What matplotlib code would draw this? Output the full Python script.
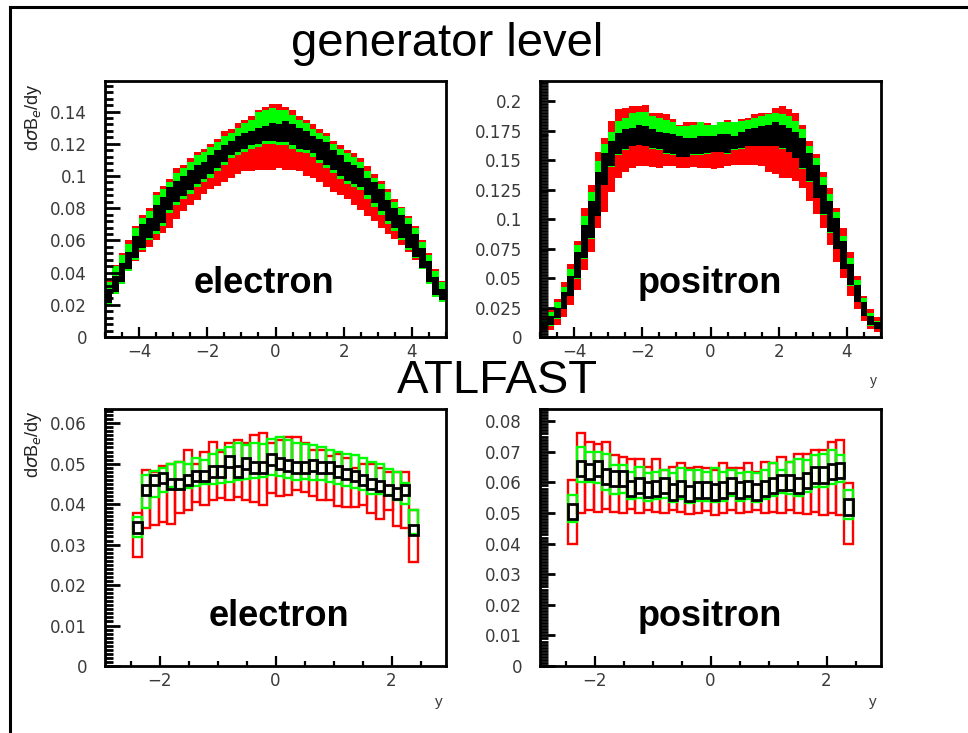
import numpy as np
import matplotlib
matplotlib.use("Agg")
import matplotlib.pyplot as plt
from matplotlib.ticker import MultipleLocator, FormatStrFormatter
from matplotlib.lines import Line2D

# ---- binning (rapidity y) ----
gen_edges = np.linspace(-5, 5, 51)
atl_edges = np.linspace(-2.45, 2.45, 35)

# ---- generator level, electron ----
e_gen_red_hi = [.035, .045, .052, .060, .069, .076, .080, .090, .094, .098, .105, .107, .111, .115, .117, .120, .123, .128, .129, .133, .135, .137, .141, .143, .145,
                .145, .143, .141, .137, .135, .132, .129, .127, .122, .119, .116, .114, .111, .106, .101, .097, .092, .086, .081, .075, .069, .060, .052, .042, .035]
e_gen_red_lo = [.020, .027, .033, .041, .047, .053, .056, .060, .0646, .068, .073, .078, .082, .085, .089, .092, .094, .096, .099, .101, .103, .103, .104, .104, .104,
                .105, .104, .104, .103, .100, .099, .096, .093, .090, .088, .0855, .082, .079, .075, .072, .068, .064, .061, .057, .053, .048, .042, .033, .025, .022]
e_gen_grn_hi = [.034, .044, .051, .058, .068, .074, .078, .088, .092, .096, .102, .105, .109, .113, .115, .118, .121, .125, .127, .130, .133, .135, .140, .141, .142,
                .141, .141, .138, .135, .133, .129, .127, .125, .120, .117, .114, .112, .109, .103, .099, .095, .090, .084, .080, .074, .068, .059, .051, .041, .034]
e_gen_grn_lo = [.020, .027, .033, .041, .048, .054, .060, .064, .069, .077, .082, .086, .089, .093, .096, .099, .103, .107, .111, .113, .115, .117, .118, .120, .120,
                .119, .119, .117, .115, .114, .112, .108, .105, .102, .098, .095, .093, .091, .086, .081, .076, .070, .066, .060, .054, .049, .042, .033, .025, .022]
e_gen_blk_hi = [.030, .038, .046, .053, .063, .070, .074, .082, .087, .093, .097, .100, .104, .107, .109, .113, .116, .119, .122, .125, .127, .128, .130, .131, .133,
                .132, .134, .132, .130, .128, .125, .123, .121, .116, .113, .109, .107, .105, .099, .096, .092, .085, .080, .076, .070, .064, .055, .047, .037, .030]
e_gen_blk_lo = [.021, .028, .034, .042, .049, .055, .0615, .0656, .071, .079, .084, .0875, .091, .095, .098, .101, .105, .109, .113, .115, .117, .119, .120, .122, .122,
                .121, .121, .119, .117, .116, .114, .110, .107, .104, .100, .097, .095, .093, .088, .083, .078, .072, .068, .0615, .055, .050, .043, .034, .026, .023]

# ---- generator level, positron ----
p_gen_red_hi = [.018, .024, .032, .047, .062, .081, .109, .129, .157, .169, .183, .193, .194, .196, .196, .197, .190, .190, .189, .185, .180, .182, .182, .182, .181,
                .180, .182, .184, .182, .185, .186, .189, .190, .190, .194, .196, .193, .190, .180, .166, .155, .140, .126, .109, .092, .072, .052, .035, .024, .017]
p_gen_red_lo = [.005, .006, .010, .017, .027, .040, .057, .072, .092, .106, .123, .135, .140, .143, .145, .145, .144, .143, .145, .145, .143, .143, .144, .143, .143,
                .142, .143, .145, .146, .146, .146, .146, .145, .140, .138, .135, .135, .132, .126, .115, .104, .092, .078, .064, .050, .035, .024, .014, .007, .004]
p_gen_grn_hi = [.0155, .021, .030, .042, .058, .078, .103, .123, .149, .164, .174, .183, .186, .190, .191, .191, .187, .186, .184, .182, .179, .179, .180, .182, .180,
                .180, .182, .182, .182, .183, .184, .186, .187, .189, .190, .189, .187, .183, .176, .162, .152, .136, .121, .106, .086, .067, .048, .033, .020, .014]
p_gen_grn_lo = [.0065, .0095, .0155, .0235, .0345, .0495, .0665, .0835, .1025, .1285, .1445, .1545, .1585, .1615, .1625, .1615, .1595, .1585, .1555, .1545, .1525, .1525, .1545, .1545, .1555,
                .1565, .1565, .1555, .1585, .1595, .1615, .1615, .1615, .1615, .1615, .1595, .1565, .1515, .1425, .1315, .1175, .1035, .0885, .0745, .0575, .0435, .0295, .0175, .0095, .0065]
p_gen_blk_hi = [.0126, .018, .025, .038, .052, .072, .095, .115, .140, .156, .166, .173, .176, .177, .180, .179, .176, .174, .173, .172, .170, .169, .169, .170, .170,
                .170, .172, .172, .170, .174, .176, .177, .179, .180, .182, .180, .177, .174, .169, .156, .146, .129, .115, .101, .081, .062, .044, .030, .018, .0126]
p_gen_blk_lo = [.007, .010, .016, .024, .035, .050, .067, .084, .103, .129, .145, .155, .159, .162, .163, .162, .160, .159, .156, .155, .153, .153, .155, .155, .156,
                .157, .157, .156, .159, .160, .162, .162, .162, .162, .162, .160, .157, .152, .143, .132, .118, .104, .089, .075, .058, .044, .030, .018, .010, .007]

# ---- ATLFAST, electron ----
e_atl_red_hi = [.0377, .0484, .0480, .0495, .0500, .0505, .0534, .0500, .0530, .0554, .0530, .0550, .0558, .0550, .0571, .0575, .0550,
                .0558, .0566, .0566, .0550, .0533, .0533, .0520, .0524, .0515, .0490, .0500, .0500, .0490, .0480, .0479, .0479, .0385]
e_atl_red_lo = [.0270, .0340, .0348, .0356, .0352, .0377, .0385, .0405, .0398, .0410, .0414, .0410, .0418, .0410, .0405, .0398, .0427,
                .0420, .0422, .0434, .0430, .0420, .0410, .0410, .0395, .0393, .0393, .0398, .0377, .0364, .0385, .0345, .0340, .0257]
e_atl_grn_hi = [.0368, .0472, .0481, .0490, .0500, .0505, .0500, .0515, .0510, .0525, .0533, .0540, .0550, .0545, .0552, .0548, .0562,
                .0565, .0558, .0550, .0548, .0545, .0540, .0533, .0530, .0525, .0521, .0515, .0505, .0500, .0488, .0480, .0451, .0385]
e_atl_grn_lo = [.0319, .0390, .0418, .0430, .0443, .0437, .0440, .0445, .0450, .0450, .0451, .0455, .0460, .0463, .0465, .0468, .0471,
                .0470, .0465, .0459, .0462, .0460, .0459, .0455, .0450, .0445, .0440, .0435, .0425, .0425, .0422, .0410, .0401, .0327]
e_atl_blk_hi = [.0355, .0448, .0473, .0478, .0463, .0463, .0473, .0483, .0483, .0493, .0493, .0518, .0493, .0513, .0503, .0503, .0523,
                .0513, .0508, .0503, .0503, .0508, .0503, .0503, .0493, .0488, .0483, .0473, .0463, .0458, .0448, .0439, .0448, .0349]
e_atl_blk_lo = [.0329, .0422, .0447, .0452, .0437, .0437, .0447, .0457, .0457, .0467, .0467, .0492, .0467, .0487, .0477, .0477, .0497,
                .0487, .0482, .0477, .0477, .0482, .0477, .0477, .0467, .0462, .0457, .0447, .0437, .0432, .0422, .0413, .0422, .0323]

# ---- ATLFAST, positron ----
p_atl_red_hi = [.0607, .0760, .0733, .0727, .0733, .0689, .0683, .0678, .0678, .0651, .0678, .0640, .0651, .0662, .0646, .0651, .0646,
                .0640, .0662, .0646, .0646, .0662, .0635, .0667, .0662, .0683, .0667, .0694, .0694, .0705, .0705, .0733, .0738, .0597]
p_atl_red_lo = [.0400, .0500, .0510, .0505, .0514, .0505, .0500, .0514, .0500, .0510, .0505, .0500, .0510, .0505, .0497, .0500, .0508,
                .0495, .0500, .0510, .0500, .0505, .0510, .0500, .0505, .0500, .0510, .0500, .0497, .0505, .0493, .0500, .0495, .0400]
p_atl_grn_hi = [.0560, .0716, .0700, .0700, .0694, .0656, .0656, .0635, .0651, .0630, .0635, .0640, .0630, .0646, .0640, .0640, .0635,
                .0646, .0635, .0640, .0630, .0635, .0630, .0640, .0662, .0640, .0667, .0678, .0672, .0689, .0694, .0705, .0689, .0575]
p_atl_grn_lo = [.0470, .0602, .0600, .0597, .0575, .0563, .0565, .0545, .0550, .0540, .0545, .0550, .0535, .0545, .0532, .0540, .0540,
                .0535, .0540, .0555, .0540, .0545, .0535, .0545, .0555, .0565, .0562, .0555, .0570, .0585, .0585, .0595, .0600, .0482]
p_atl_blk_hi = [.0529, .0671, .0660, .0671, .0645, .0638, .0638, .0605, .0615, .0602, .0605, .0615, .0594, .0605, .0589, .0600, .0600,
                .0594, .0600, .0615, .0600, .0605, .0594, .0605, .0615, .0625, .0625, .0615, .0632, .0649, .0649, .0660, .0665, .0545]
p_atl_blk_lo = [.0479, .0621, .0610, .0621, .0595, .0588, .0588, .0555, .0565, .0552, .0555, .0565, .0544, .0555, .0539, .0550, .0550,
                .0544, .0550, .0565, .0550, .0555, .0544, .0555, .0565, .0575, .0575, .0565, .0582, .0599, .0599, .0610, .0615, .0495]

RED, GREEN, BLACK = "#ff0000", "#00ff00", "#000000"
TICK_COLOR = "#3a3a3a"
plt.rcParams['font.family'] = ['Liberation Sans', 'DejaVu Sans']


def style_axes(ax, xlim, ylim, xmaj, xmin, ymaj, ymin):
    ax.set_xlim(*xlim)
    ax.set_ylim(*ylim)
    for s in ax.spines.values():
        s.set_linewidth(2.0)
    ax.xaxis.set_major_locator(MultipleLocator(xmaj))
    ax.xaxis.set_minor_locator(MultipleLocator(xmin))
    ax.yaxis.set_major_locator(MultipleLocator(ymaj))
    ax.yaxis.set_minor_locator(MultipleLocator(ymin))
    ax.yaxis.set_major_formatter(FormatStrFormatter('%g'))
    ax.tick_params(axis='y', which='major', direction='in', length=11, width=2,
                   pad=13, labelcolor=TICK_COLOR)
    ax.tick_params(axis='y', which='minor', direction='in', length=6, width=2)
    ax.tick_params(axis='x', which='major', direction='in', length=7, width=1.6,
                   pad=4, labelcolor=TICK_COLOR)
    ax.tick_params(axis='x', which='minor', direction='in', length=3.5, width=1.6)
    ax.tick_params(top=False, right=False, which='both')
    # ROOT-like wide digits
    for lab in ax.get_xticklabels() + ax.get_yticklabels():
        lab.set_family('DejaVu Sans')
        lab.set_fontsize(12)


def filled_bands(ax, edges, bands):
    for lo, hi, col in bands:
        ax.stairs(hi, edges, baseline=lo, fill=True, color=col, linewidth=0)


def box_bands(ax, edges, bands):
    centers = 0.5 * (edges[:-1] + edges[1:])
    width = edges[1] - edges[0]
    for lo, hi, col, lw in bands:
        lo = np.asarray(lo)
        hi = np.asarray(hi)
        ax.bar(centers, hi - lo, bottom=lo, width=width, fill=False,
               edgecolor=col, linewidth=lw)


fig = plt.figure(figsize=(9.68, 7.33), dpi=100)

ax_tl = fig.add_axes([0.1085, 0.5402, 0.3523, 0.3493])
ax_tr = fig.add_axes([0.5579, 0.5402, 0.3523, 0.3493])
ax_bl = fig.add_axes([0.1085, 0.0914, 0.3523, 0.3506])
ax_br = fig.add_axes([0.5579, 0.0914, 0.3523, 0.3506])

filled_bands(ax_tl, gen_edges, [(e_gen_red_lo, e_gen_red_hi, RED),
                                (e_gen_grn_lo, e_gen_grn_hi, GREEN),
                                (e_gen_blk_lo, e_gen_blk_hi, BLACK)])
filled_bands(ax_tr, gen_edges, [(p_gen_red_lo, p_gen_red_hi, RED),
                                (p_gen_grn_lo, p_gen_grn_hi, GREEN),
                                (p_gen_blk_lo, p_gen_blk_hi, BLACK)])
box_bands(ax_bl, atl_edges, [(e_atl_red_lo, e_atl_red_hi, RED, 1.7),
                             (e_atl_grn_lo, e_atl_grn_hi, GREEN, 1.7),
                             (e_atl_blk_lo, e_atl_blk_hi, BLACK, 2.0)])
box_bands(ax_br, atl_edges, [(p_atl_red_lo, p_atl_red_hi, RED, 1.7),
                             (p_atl_grn_lo, p_atl_grn_hi, GREEN, 1.7),
                             (p_atl_blk_lo, p_atl_blk_hi, BLACK, 2.0)])

style_axes(ax_tl, (-5, 5), (0, 0.159), 2, 0.5, 0.02, 0.004)
style_axes(ax_tr, (-5, 5), (0, 0.217), 2, 0.5, 0.025, 0.0025)
style_axes(ax_bl, (-2.94, 2.94), (0, 0.0635), 2, 0.5, 0.01, 0.001)
style_axes(ax_br, (-2.94, 2.94), (0, 0.084), 2, 0.5, 0.01, 0.001)

# panel labels
ax_tl.text(0.466, 0.172, "electron", transform=ax_tl.transAxes, ha='center',
           va='baseline', fontsize=26, fontweight='bold')
ax_tr.text(0.499, 0.172, "positron", transform=ax_tr.transAxes, ha='center',
           va='baseline', fontsize=26, fontweight='bold')
ax_bl.text(0.51, 0.156, "electron", transform=ax_bl.transAxes, ha='center',
           va='baseline', fontsize=26, fontweight='bold')
ax_br.text(0.499, 0.156, "positron", transform=ax_br.transAxes, ha='center',
           va='baseline', fontsize=26, fontweight='bold')

# axis titles (ROOT style)
ylab = r'd$\sigma$B$_e$/dy'
fig.text(0.0351, 0.8868, ylab, rotation=90, ha='center', va='top', fontsize=13, color='#222222')
fig.text(0.0351, 0.4407, ylab, rotation=90, ha='center', va='top', fontsize=13, color='#222222')
ax_tr.text(0.977, -0.172, "y", transform=ax_tr.transAxes, ha='center', va='center',
           fontsize=10, color=TICK_COLOR)
ax_bl.text(0.979, -0.14, "y", transform=ax_bl.transAxes, ha='center', va='center',
           fontsize=11, color=TICK_COLOR)
ax_br.text(0.976, -0.14, "y", transform=ax_br.transAxes, ha='center', va='center',
           fontsize=11, color=TICK_COLOR)

# section headings
fig.text(0.462, 0.923, "generator level", ha='center', va='baseline', fontsize=34)
fig.text(0.514, 0.4638, "ATLFAST", ha='center', va='baseline', fontsize=34)

# slide frame
fig.add_artist(Line2D([10 / 968, 1.0], [1 - 7 / 733, 1 - 7 / 733], transform=fig.transFigure,
                      color='black', linewidth=2.2))
fig.add_artist(Line2D([10 / 968, 10 / 968], [0.0, 1 - 7 / 733], transform=fig.transFigure,
                      color='black', linewidth=2.2))

fig.savefig("out.png", dpi=100)
